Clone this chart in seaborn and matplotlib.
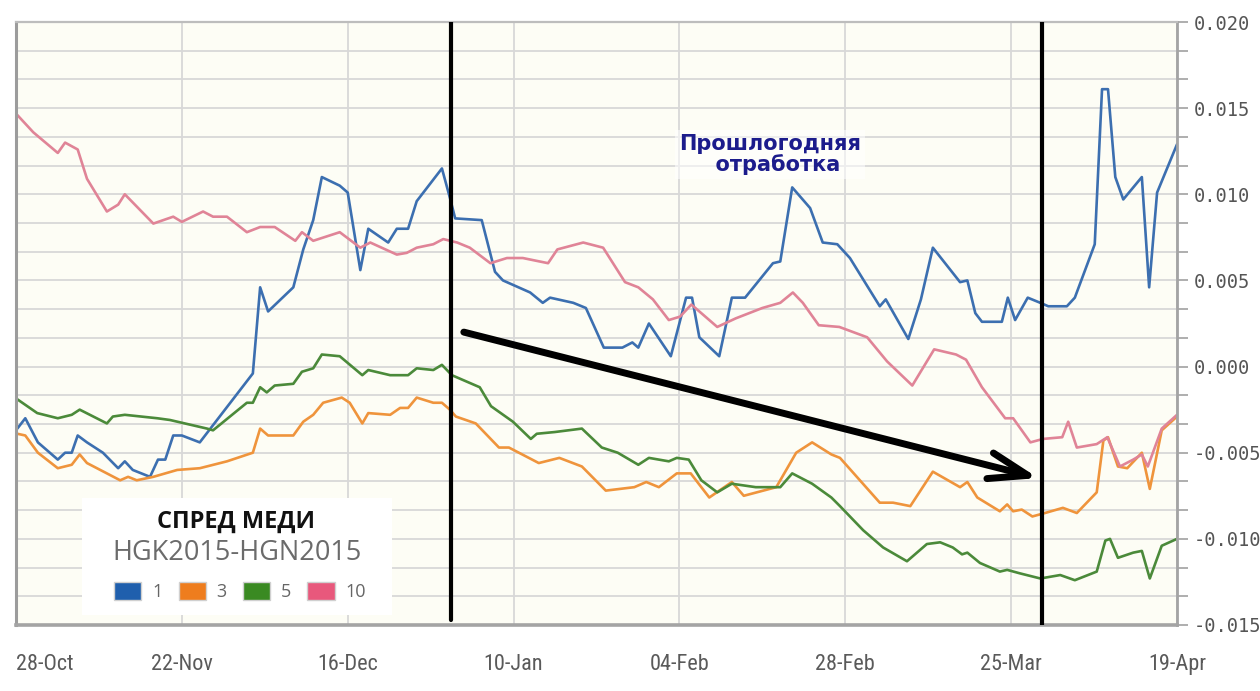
import pandas as pd
import seaborn as sns
import matplotlib.pyplot as plt
import matplotlib.ticker as mtick
from matplotlib.patches import Patch, Rectangle
from matplotlib import font_manager

# Ось X: торговые дни от 28-Oct, подписи каждые 25 дней
tick_days = [0, 25, 50, 75, 100, 125, 150, 175]
tick_labels = ["28-Oct", "22-Nov", "16-Dec", "10-Jan", "04-Feb", "28-Feb", "25-Mar", "19-Apr"]
y_major = [-0.015, -0.010, -0.005, 0.000, 0.005, 0.010, 0.015, 0.020]

tenors = ["1", "3", "5", "10"]

days_1 = [0.2, 1.4, 3.3, 6.3, 7.4, 8.4, 9.3, 10.7, 13.1, 15.4,
          16.4, 17.6, 20.2, 21.4, 22.5, 23.7, 25.0, 27.7, 35.7, 36.8,
          38.0, 41.8, 43.3, 44.8, 46.1, 48.8, 50.0, 51.9, 53.1, 56.1,
          57.4, 59.1, 60.4, 64.2, 65.4, 66.2, 70.2, 72.2, 73.4, 77.5,
          79.4, 80.5, 84.0, 85.9, 88.6, 91.4, 92.9, 93.8, 95.4, 98.7,
          101.0, 101.9, 103.0, 106.0, 107.9, 109.9, 114.1, 115.2, 117.0, 119.7,
          121.6, 123.8, 125.7, 130.2, 131.1, 134.5, 136.4, 138.2, 142.3, 143.4,
          144.6, 145.6, 148.6, 149.5, 150.6, 152.5, 154.4, 155.6, 158.4, 159.6,
          162.6, 163.7, 164.6, 165.7, 166.9, 169.7, 170.8, 172.0, 175.0]
spread_1 = [-0.0036, -0.0030, -0.0044, -0.0054, -0.0050, -0.0050, -0.0040, -0.0044, -0.0050, -0.0059,
            -0.0055, -0.0060, -0.0064, -0.0054, -0.0054, -0.0040, -0.0040, -0.0044, -0.0004, 0.0046,
            0.0032, 0.0046, 0.0068, 0.0085, 0.0110, 0.0105, 0.0101, 0.0056, 0.0080, 0.0072,
            0.0080, 0.0080, 0.0096, 0.0115, 0.0098, 0.0086, 0.0085, 0.0055, 0.0050, 0.0043,
            0.0037, 0.0040, 0.0037, 0.0034, 0.0011, 0.0011, 0.0014, 0.0011, 0.0025, 0.0006,
            0.0040, 0.0040, 0.0017, 0.0006, 0.0040, 0.0040, 0.0060, 0.0061, 0.0104, 0.0092,
            0.0072, 0.0071, 0.0063, 0.0035, 0.0039, 0.0016, 0.0039, 0.0069, 0.0049, 0.0050,
            0.0031, 0.0026, 0.0026, 0.0040, 0.0027, 0.0040, 0.0037, 0.0035, 0.0035, 0.0040,
            0.0071, 0.0161, 0.0161, 0.0110, 0.0097, 0.0110, 0.0046, 0.0101, 0.0129]

days_3 = [0.2, 1.4, 3.3, 6.3, 8.4, 9.6, 10.7, 15.7, 16.9, 18.2,
          20.7, 24.3, 27.7, 31.8, 35.7, 36.8, 38.0, 41.8, 43.3, 44.8,
          46.3, 49.1, 50.3, 52.2, 53.1, 56.4, 57.9, 59.1, 60.4, 62.9,
          64.2, 65.4, 66.3, 69.3, 72.8, 74.3, 78.8, 81.9, 85.3, 88.9,
          93.2, 95.0, 96.9, 99.6, 101.7, 104.5, 107.9, 109.7, 114.6, 117.6,
          120.0, 122.9, 124.2, 127.2, 130.2, 132.2, 134.8, 138.2, 142.3, 143.4,
          144.9, 148.3, 149.4, 150.3, 151.6, 153.2, 155.1, 157.8, 159.9, 162.9,
          163.9, 164.6, 166.1, 167.5, 169.7, 170.9, 172.7, 175.0]
spread_3 = [-0.0039, -0.0040, -0.0050, -0.0059, -0.0057, -0.0051, -0.0056, -0.0066, -0.0064, -0.0066,
            -0.0064, -0.0060, -0.0059, -0.0055, -0.0050, -0.0036, -0.0040, -0.0040, -0.0032, -0.0028,
            -0.0021, -0.0018, -0.0021, -0.0033, -0.0027, -0.0028, -0.0024, -0.0024, -0.0018, -0.0021,
            -0.0021, -0.0025, -0.0029, -0.0033, -0.0047, -0.0047, -0.0056, -0.0053, -0.0058, -0.0072,
            -0.0070, -0.0067, -0.0070, -0.0062, -0.0062, -0.0076, -0.0067, -0.0075, -0.0070, -0.0050,
            -0.0044, -0.0051, -0.0053, -0.0066, -0.0079, -0.0079, -0.0081, -0.0061, -0.0070, -0.0067,
            -0.0076, -0.0084, -0.0080, -0.0084, -0.0083, -0.0087, -0.0085, -0.0082, -0.0085, -0.0073,
            -0.0043, -0.0041, -0.0058, -0.0059, -0.0050, -0.0071, -0.0037, -0.0029]

days_5 = [0.2, 3.2, 6.3, 8.4, 9.6, 13.7, 14.6, 16.4, 21.3, 23.2,
          28.8, 29.7, 34.8, 35.7, 36.8, 37.8, 39.0, 41.8, 43.1, 44.8,
          46.1, 48.8, 52.2, 53.1, 56.4, 59.1, 60.4, 62.9, 64.2, 65.7,
          69.9, 71.6, 74.9, 77.6, 78.5, 81.2, 85.3, 88.3, 90.7, 93.8,
          95.4, 98.4, 99.6, 101.4, 103.3, 105.7, 107.9, 111.5, 115.2, 117.0,
          120.0, 122.9, 124.2, 127.7, 130.7, 134.3, 137.3, 139.3, 141.2, 142.6,
          143.4, 145.3, 148.3, 149.4, 151.3, 154.4, 157.4, 159.6, 162.9, 164.2,
          164.9, 166.1, 168.4, 169.7, 170.9, 172.7, 175.0]
spread_5 = [-0.0019, -0.0027, -0.0030, -0.0028, -0.0025, -0.0033, -0.0029, -0.0028, -0.0030, -0.0031,
            -0.0036, -0.0037, -0.0021, -0.0021, -0.0012, -0.0015, -0.0011, -0.0010, -0.0003, -0.0001,
            0.0007, 0.0006, -0.0005, -0.0002, -0.0005, -0.0005, -0.0001, -0.0002, 0.0001, -0.0005,
            -0.0012, -0.0023, -0.0032, -0.0042, -0.0039, -0.0038, -0.0036, -0.0047, -0.0050, -0.0057,
            -0.0053, -0.0055, -0.0053, -0.0054, -0.0066, -0.0073, -0.0068, -0.0070, -0.0070, -0.0062,
            -0.0068, -0.0076, -0.0081, -0.0095, -0.0105, -0.0113, -0.0103, -0.0102, -0.0105, -0.0109,
            -0.0108, -0.0114, -0.0119, -0.0118, -0.0120, -0.0123, -0.0121, -0.0124, -0.0119, -0.0101,
            -0.0100, -0.0111, -0.0108, -0.0107, -0.0123, -0.0104, -0.0100]

days_10 = [0.2, 2.6, 6.3, 7.4, 9.3, 10.7, 13.7, 15.4, 16.4, 20.7,
           23.7, 25.0, 28.2, 29.7, 31.8, 34.8, 36.8, 39.0, 42.1, 43.1,
           44.8, 48.8, 51.9, 53.4, 57.4, 58.9, 60.4, 62.9, 64.4, 66.5,
           68.4, 71.5, 74.0, 76.4, 80.2, 81.6, 85.5, 88.5, 91.8, 93.8,
           96.0, 98.4, 100.1, 101.8, 105.7, 108.5, 112.5, 115.2, 117.1, 118.6,
           121.0, 124.1, 128.3, 131.3, 135.1, 138.4, 141.7, 143.2, 145.6, 149.1,
           150.3, 152.9, 154.8, 157.7, 158.6, 159.9, 162.9, 164.5, 166.4, 168.4,
           169.7, 170.6, 172.7, 175.0]
spread_10 = [0.0146, 0.0136, 0.0124, 0.0130, 0.0126, 0.0109, 0.0090, 0.0094, 0.0100, 0.0083,
             0.0087, 0.0084, 0.0090, 0.0087, 0.0087, 0.0078, 0.0081, 0.0081, 0.0073, 0.0078,
             0.0073, 0.0078, 0.0069, 0.0072, 0.0065, 0.0066, 0.0069, 0.0071, 0.0074, 0.0072,
             0.0069, 0.0060, 0.0063, 0.0063, 0.0060, 0.0068, 0.0072, 0.0069, 0.0049, 0.0046,
             0.0039, 0.0027, 0.0029, 0.0036, 0.0023, 0.0028, 0.0034, 0.0037, 0.0043, 0.0037,
             0.0024, 0.0023, 0.0017, 0.0003, -0.0011, 0.0010, 0.0007, 0.0004, -0.0012, -0.0030,
             -0.0030, -0.0044, -0.0042, -0.0041, -0.0032, -0.0047, -0.0045, -0.0041, -0.0058, -0.0054,
             -0.0051, -0.0058, -0.0036, -0.0028]

line_colors = {"1": "#3c6fb0", "3": "#ef943c", "5": "#4b8a3a", "10": "#e08497"}
legend_colors = ["#1f5fad", "#ee7d1e", "#3a8a22", "#e8587c"]

# Длинная таблица для seaborn
df = pd.concat([
    pd.DataFrame({"day": d, "spread": s, "tenor": t})
    for t, d, s in zip(tenors, [days_1, days_3, days_5, days_10],
                       [spread_1, spread_3, spread_5, spread_10])
], ignore_index=True)

sns.set_style("white")
plt.rcParams["axes.unicode_minus"] = False
plt.rcParams["font.family"] = ["DejaVu Sans"]

# Узкий шрифт для дат, если есть
installed = {f.name for f in font_manager.fontManager.ttflist}
xfont, xsize = "DejaVu Sans", 13.5
for name, size in [("Liberation Sans Narrow", 17), ("Roboto Condensed", 16),
                   ("Open Sans Condensed", 16)]:
    if name in installed:
        xfont, xsize = name, size
        break
lfont = ["Open Sans", "DejaVu Sans"]

fig = plt.figure(figsize=(12.6, 6.91), dpi=100)
ax = fig.add_axes([16 / 1260, 66 / 691, 1161 / 1260, 603 / 691])
ax.set_facecolor("#fdfdf5")

sns.lineplot(data=df, x="day", y="spread", hue="tenor", hue_order=tenors,
             palette=line_colors, estimator=None, sort=False, linewidth=1.9,
             legend=False, ax=ax)

ax.set_xlim(0, 175)
ax.set_ylim(-0.015, 0.020)
ax.set(xlabel=None, ylabel=None)

# Сетка: вертикальные по датам, горизонтальные каждые 0.005/3
ax.set_xticks(tick_days)
ax.set_xticklabels(tick_labels, fontfamily=xfont, fontsize=xsize, color="#5a5a5a")
ax.get_xticklabels()[0].set_horizontalalignment("left")
ax.yaxis.tick_right()
ax.yaxis.set_major_locator(mtick.FixedLocator(y_major))
ax.yaxis.set_minor_locator(mtick.FixedLocator(
    [y_major[0] + k * 0.005 / 3 for k in range(22) if k % 3]))
ax.yaxis.set_major_formatter(mtick.FuncFormatter(lambda v, _: f"{round(v, 3) + 0:.3f}"))
for lab in ax.get_yticklabels():
    lab.set_fontfamily("DejaVu Sans Mono")
    lab.set_fontsize(13.5)
    lab.set_color("#555555")

ax.grid(True, which="both", axis="y", color="#d8d8d8", linewidth=1.3)
ax.grid(True, which="major", axis="x", color="#d8d8d8", linewidth=1.3)
ax.set_axisbelow(True)
ax.tick_params(axis="x", which="major", direction="out", length=9, width=1.3,
               color="#cfcfcf", pad=12)
ax.tick_params(axis="y", which="both", direction="out", length=8, width=1.3,
               color="#a8a8a8", pad=4, right=True, left=False)

for side, lw, col in [("left", 2.2, "#9c9c9c"), ("bottom", 2.6, "#a4a4a4"),
                      ("top", 1.6, "#bdbdbd"), ("right", 2.0, "#a4a4a4")]:
    ax.spines[side].set_visible(True)
    ax.spines[side].set_linewidth(lw)
    ax.spines[side].set_color(col)

# Ручные пометки: вертикальные линии и стрелка
ax.plot([65.6, 65.6], [0.020, -0.0147], color="black", linewidth=3, zorder=5)
ax.plot([154.7, 154.7], [0.020, -0.015], color="black", linewidth=3, zorder=5)
ax.annotate("", xy=(154.1, -0.00647), xytext=(67.5, 0.0020),
            arrowprops=dict(arrowstyle="->,head_length=2.8,head_width=0.95",
                            color="black", linewidth=5, shrinkA=0, shrinkB=0),
            zorder=6)

ax.text(113.7, 0.0123, "Прошлогодняя\n  отработка", ha="center", va="center",
        fontsize=15, fontweight="bold", color="#1c1c8c", linespacing=1.0,
        bbox=dict(facecolor="white", alpha=0.55, edgecolor="none", pad=3), zorder=7)

# Легенда в белом блоке
ax.add_patch(Rectangle((0.0568, 0.0166), 0.2671, 0.194, transform=ax.transAxes,
                       facecolor="white", edgecolor="none", zorder=8))
ax.text(0.1895, 0.1708, "СПРЕД МЕДИ", transform=ax.transAxes, ha="center", va="center",
        fontsize=17, fontweight="bold", color="#111111", family=lfont, zorder=9)
ax.text(0.1904, 0.1194, "HGK2015-HGN2015", transform=ax.transAxes, ha="center",
        va="center", fontsize=19.5, color="#6b6b6b", family=lfont, zorder=9)
handles = [Patch(facecolor=c, edgecolor="#d0d0d0", linewidth=1) for c in legend_colors]
leg = ax.legend(handles, tenors, ncol=4, loc="center", bbox_to_anchor=(0.193, 0.055),
                frameon=False, handlelength=1.5, handleheight=1.1, handletextpad=0.6,
                columnspacing=0.9, labelcolor="#666666",
                prop={"family": lfont, "size": 13})
leg.set_zorder(10)

plt.savefig("out.png", dpi=100)
